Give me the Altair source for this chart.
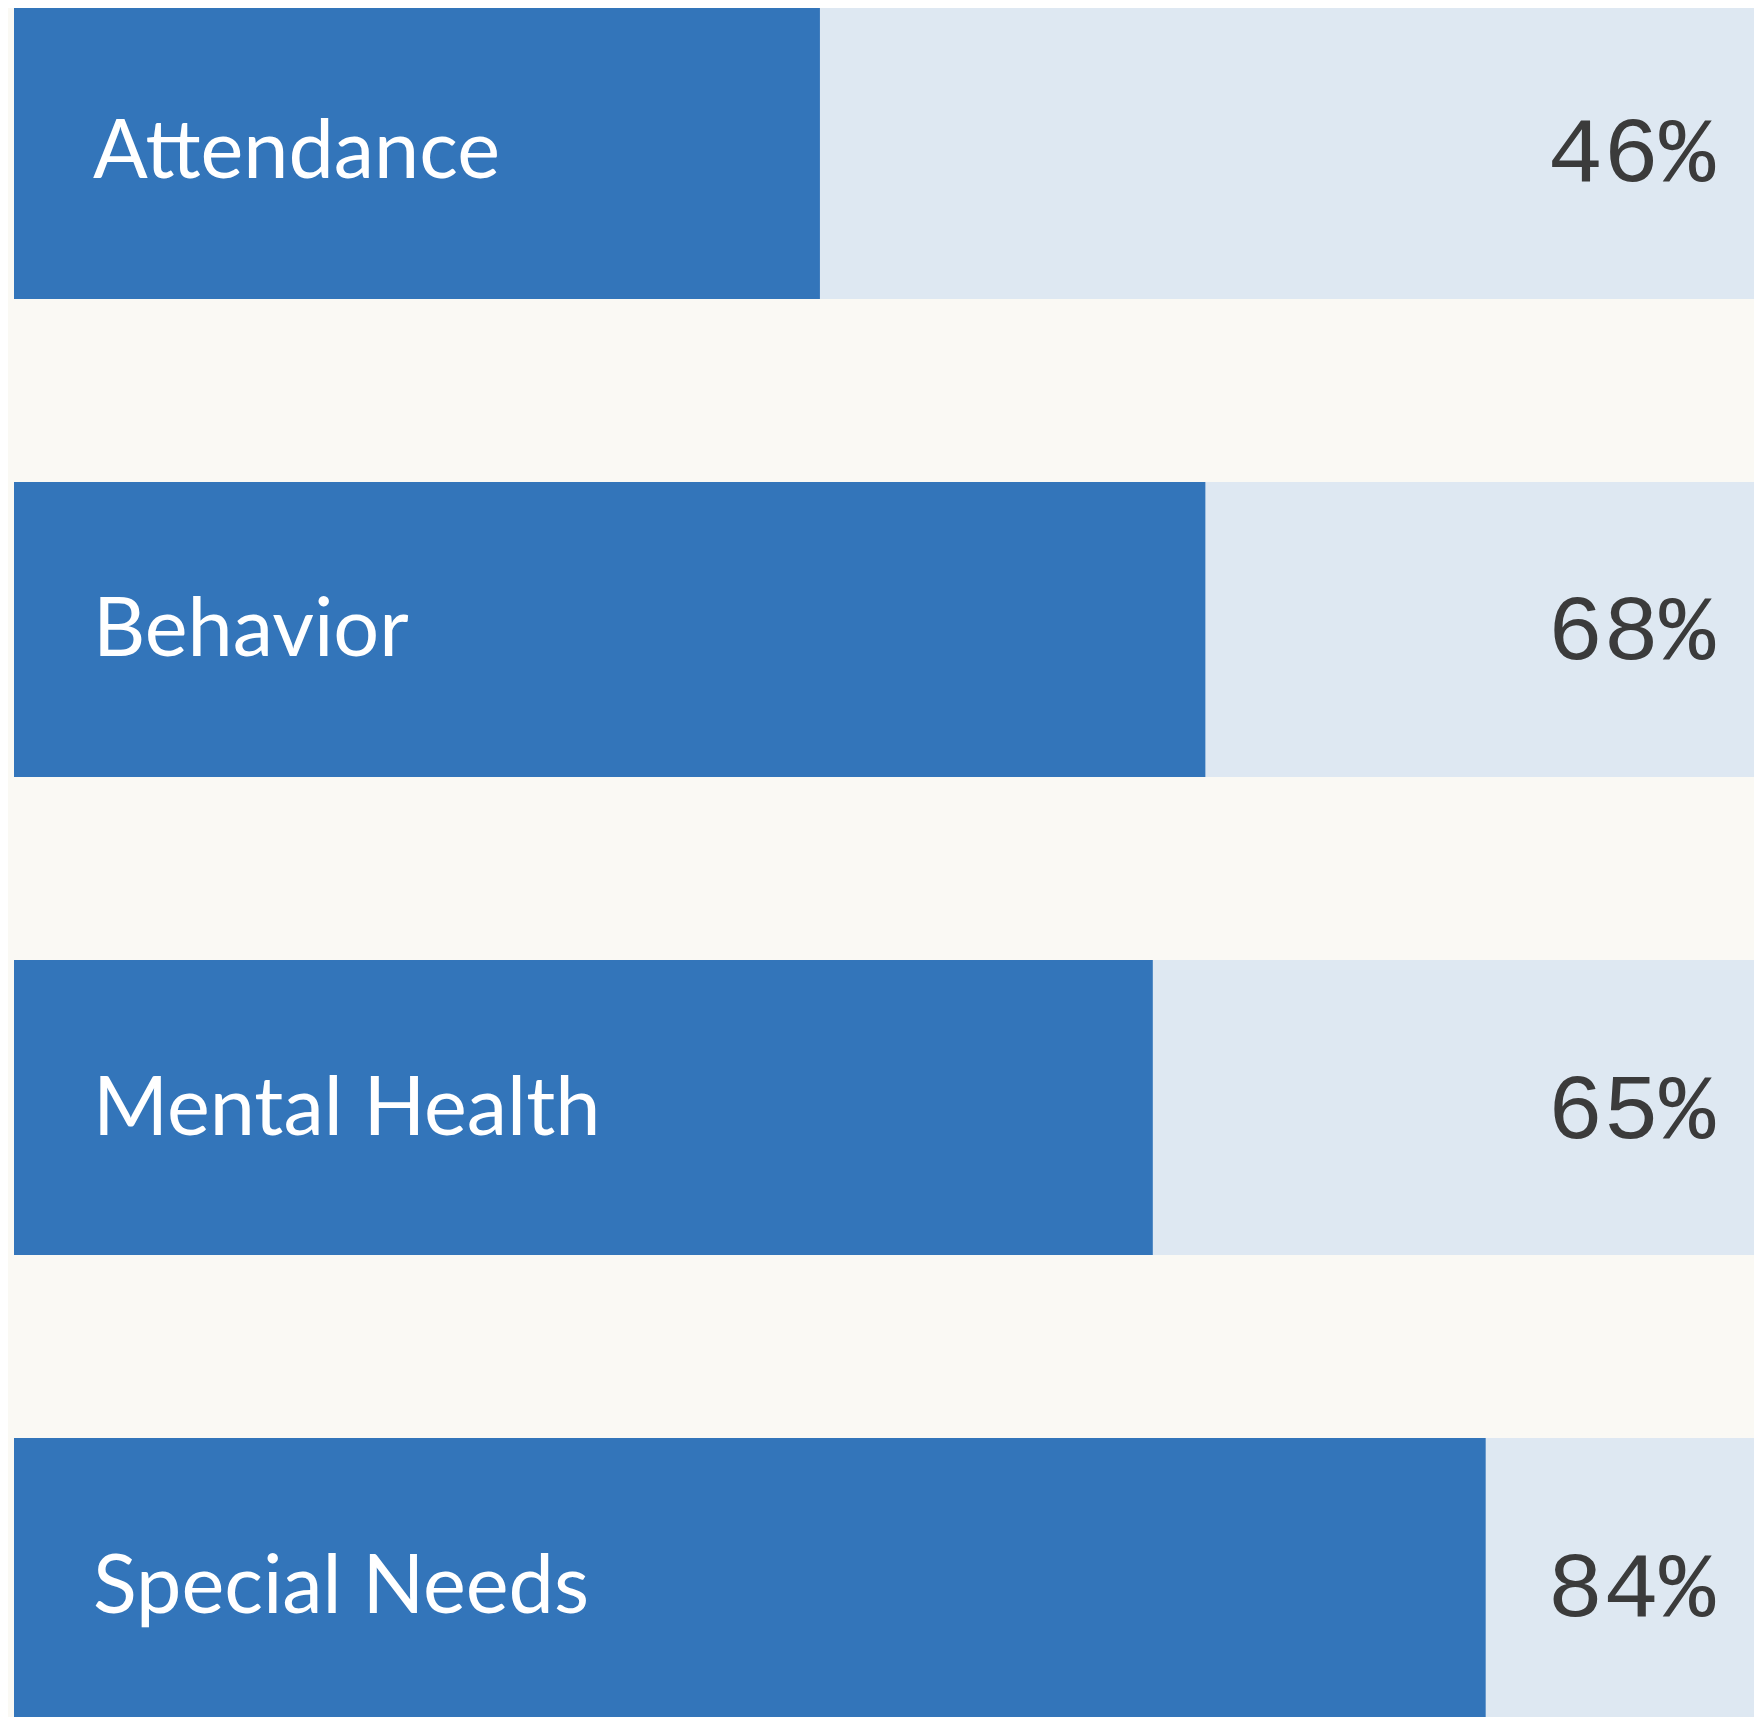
import altair as alt
import pandas as pd

categories = ["Attendance", "Behavior", "Mental Health", "Special Needs"]
values = [46, 68, 65, 84]
labels = ["46%", "68%", "65%", "84%"]
full = [100, 100, 100, 100]

df = pd.DataFrame({
    "category": categories,
    "value": values,
    "label": labels,
    "full": full,
})

BLUE = "#3375BA"
TRACK = "#DEE8F2"
BG = "#FAF9F4"

yenc = alt.Y(
    "category:N",
    sort=categories,
    axis=None,
    scale=alt.Scale(range=[0, 1729], paddingInner=0.38285, paddingOuter=0),
)
xs = alt.Scale(domain=[0, 100], range=[0, 1752])

base = alt.Chart(df)

track = base.mark_bar(color=TRACK, clip=True).encode(
    x=alt.X("full:Q", scale=xs, axis=None), y=yenc
)
fill = base.mark_bar(color=BLUE, clip=True).encode(
    x=alt.X("value:Q", scale=xs, axis=None), y=yenc
)
names = base.mark_text(
    align="left", baseline="middle", dx=79, dy=3,
    font="Lato", fontSize=81, color="white", clip=True,
).encode(x=alt.datum(0, scale=xs), y=yenc, text="category:N")
pcts = base.mark_text(
    align="right", baseline="middle", dx=-51, dy=2,
    font="Liberation Mono", fontSize=93, color="#3B3B3B", clip=True,
).encode(x=alt.X("full:Q", scale=xs), y=yenc, text="label:N")

chart = (
    alt.layer(track, fill, names, pcts)
    .properties(
        width=1740,
        height=1713,
        background=BG,
        padding={"left": 6, "top": -4, "right": 0, "bottom": 0},
        autosize=alt.AutoSizeParams(type="none"),
    )
    .configure_view(stroke=None)
)

chart.save("out.html", embed_options={"renderer": "svg", "actions": False})
